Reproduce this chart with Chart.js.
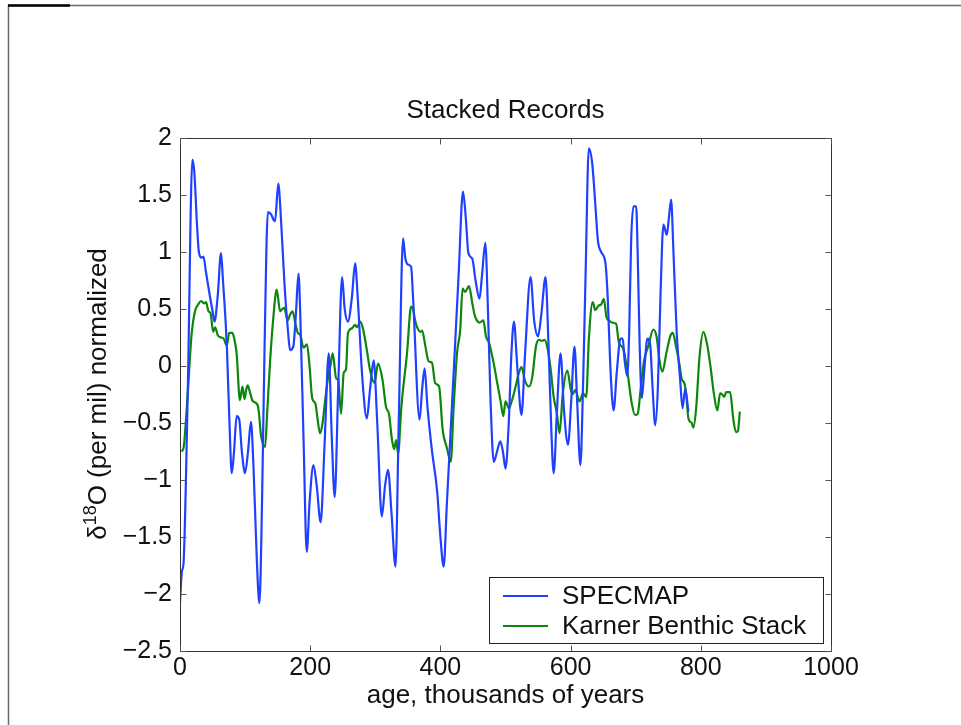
<!DOCTYPE html>
<html>
<head>
<meta charset="utf-8">
<title>Stacked Records</title>
<script src="https://cdn.jsdelivr.net/npm/chart.js@4/dist/chart.umd.min.js"></script>
<style>
  html, body { margin: 0; padding: 0; background: #ffffff; }
  #wrap { position: absolute; left: 0; top: 0; width: 961px; height: 725px; }
  canvas { display: block; }
</style>
</head>
<body>
<div id="wrap"><canvas id="c" width="961" height="725"></canvas></div>
<script>
// SPECMAP stacked record: age (ka) and normalized delta-18O
const specAge = [0, 3, 5.4, 12, 19, 22, 26, 29, 33, 36, 40, 46, 50, 53, 58, 63, 66, 72, 76, 79.5, 83, 87, 91, 95, 100, 104.5, 109, 113, 118, 122, 126, 130, 135, 140, 144, 146, 151, 155, 161, 166, 169, 174, 178, 182, 185, 190, 194.7, 199, 205, 210, 216, 222, 228.5, 233, 237.6, 243, 249, 253, 258, 264, 269, 273, 280, 287, 292, 297.5, 303, 310, 315, 319.5, 325, 331, 336, 342.6, 346, 350, 355, 358, 368, 372, 375.8, 380, 387, 395, 400, 405, 410, 420, 428, 434.7, 439, 443, 449, 454, 460, 464, 469, 473, 477, 482, 487, 492, 496, 500, 505, 509, 513, 518, 524.6, 530, 538.5, 544, 550, 555, 561.5, 566, 570, 574, 579, 584.5, 590, 596, 601, 606, 610, 615, 619, 623, 628, 633, 637, 642, 647, 653.6, 657, 661, 666, 671, 676.6, 680, 683, 687, 690, 693, 696.6, 700.7, 703, 706, 709.5, 713, 718, 722, 726, 730, 734, 738, 742.6, 747.8, 751, 754.4, 758, 763, 768, 772, 776, 781];
const specVal = [-2.07, -1.8, -1.73, -0.2, 1.81, 1.7, 1.25, 1.0, 0.95, 0.96, 0.82, 0.61, 0.48, 0.39, 0.62, 0.99, 0.75, 0.17, -0.5, -0.94, -0.75, -0.44, -0.47, -0.75, -0.94, -0.75, -0.49, -0.9, -1.7, -2.08, -1.2, 0.2, 1.35, 1.33, 1.28, 1.27, 1.6, 1.3, 0.67, 0.3, 0.14, 0.17, 0.45, 0.81, 0.4, -0.7, -1.63, -1.2, -0.87, -1.05, -1.37, -0.7, 0.11, -0.6, -1.15, -0.2, 0.78, 0.5, 0.39, 0.6, 0.9, 0.6, -0.1, -0.46, -0.2, 0.05, -0.5, -1.32, -1.05, -0.91, -1.3, -1.76, -0.5, 1.12, 0.95, 0.89, 0.87, 0.6, -0.47, -0.2, -0.02, -0.35, -0.74, -1.1, -1.5, -1.76, -1.2, -0.1, 0.8, 1.53, 1.3, 0.99, 0.94, 0.75, 0.59, 0.8, 1.08, 0.5, -0.3, -0.84, -0.75, -0.66, -0.75, -0.9, -0.5, 0.1, 0.39, 0.0, -0.43, 0.1, 0.78, 0.4, 0.26, 0.45, 0.78, 0.2, -0.5, -0.94, -0.4, 0.11, -0.4, -0.69, -0.3, 0.17, -0.3, -0.87, -0.2, 0.8, 1.91, 1.79, 1.5, 1.1, 1.0, 0.9, 0.6, 0.0, -0.39, -0.05, 0.24, 0.24, 0.05, -0.09, 0.3, 1.1, 1.4, 1.4, 1.0, 0.2, -0.28, -0.05, 0.24, 0.2, -0.2, -0.52, -0.2, 0.6, 1.24, 1.15, 1.3, 1.46, 1.0, 0.29, -0.1, -0.37, -0.2, -0.4];

// Karner benthic stack: age (ka) and normalized delta-18O
const karnerAge = [2, 5.4, 10.5, 18, 23, 28, 32.5, 37, 40, 43.7, 47, 51, 54, 58, 63, 67, 72, 75.5, 80.5, 84, 87, 92, 96, 99, 102, 104, 107, 111, 115, 119, 121, 124.5, 130.7, 134, 138.5, 143, 148.6, 153.7, 157, 160, 165.5, 169, 173, 177, 181, 185, 189.6, 195, 199, 203, 208, 211, 215, 219, 223, 228, 231, 234.5, 240, 243, 247.4, 251.5, 255, 258, 264, 269, 272, 277, 281, 287, 292, 299, 304, 311, 316.5, 321, 325.7, 329, 332, 335, 340, 348.7, 355, 358, 361.5, 365, 369, 372, 377, 382, 387, 392, 398, 403.5, 410, 416, 420, 425.5, 430.5, 434, 438, 444, 449, 452.5, 456, 460, 466, 470, 475, 482, 487, 492.5, 496.6, 500, 505, 510, 515.5, 520.6, 524.6, 530, 536, 541, 547, 551.5, 556, 560, 564, 569, 574, 579, 583, 588, 595, 600, 603, 607, 613.7, 619, 624, 628, 634, 638, 643, 647, 651, 655, 659, 664, 670, 674, 681, 687, 694, 699, 703, 708, 713, 719.6, 727, 732, 736.5, 741, 747, 753, 757, 762, 767, 771, 774, 777.5, 781, 786, 788.5, 793, 798, 804, 810, 815, 820, 825.5, 829.6, 833, 836, 839, 845, 850, 854, 857, 860];
const karnerVal = [-0.75, -0.72, -0.36, 0.29, 0.48, 0.54, 0.57, 0.55, 0.56, 0.48, 0.46, 0.3, 0.34, 0.27, 0.25, 0.24, 0.18, 0.29, 0.29, 0.22, 0.11, -0.3, -0.18, -0.29, -0.2, -0.17, -0.22, -0.3, -0.32, -0.34, -0.4, -0.61, -0.71, -0.4, 0.05, 0.4, 0.67, 0.48, 0.5, 0.51, 0.4, 0.45, 0.48, 0.38, 0.29, 0.27, 0.16, 0.19, 0.0, -0.28, -0.33, -0.45, -0.59, -0.5, -0.3, -0.08, 0.0, 0.11, -0.11, -0.12, -0.42, -0.06, -0.03, 0.29, 0.33, 0.36, 0.34, 0.39, 0.33, 0.14, -0.04, -0.15, 0.02, -0.12, -0.36, -0.42, -0.65, -0.73, -0.65, -0.77, -0.36, 0.11, 0.52, 0.5, 0.39, 0.33, 0.3, 0.31, 0.17, 0.04, 0.03, -0.15, -0.18, -0.56, -0.72, -0.84, -0.4, 0.11, 0.32, 0.68, 0.65, 0.7, 0.55, 0.45, 0.4, 0.38, 0.4, 0.26, 0.2, 0.02, -0.14, -0.31, -0.44, -0.31, -0.37, -0.3, -0.18, -0.06, -0.01, -0.13, -0.18, -0.1, 0.18, 0.23, 0.22, 0.23, 0.17, -0.01, -0.27, -0.42, -0.59, -0.24, -0.04, -0.2, -0.25, -0.21, -0.31, -0.24, -0.27, 0.23, 0.56, 0.49, 0.53, 0.54, 0.59, 0.43, 0.4, 0.38, 0.37, 0.21, 0.15, -0.04, -0.33, -0.43, -0.42, -0.18, 0.05, 0.18, 0.32, 0.26, 0.05, -0.05, 0.11, 0.26, 0.29, 0.17, 0.02, -0.12, -0.14, -0.24, -0.46, -0.5, -0.54, -0.36, 0.08, 0.3, 0.18, -0.01, -0.24, -0.39, -0.24, -0.25, -0.27, -0.23, -0.23, -0.47, -0.58, -0.57, -0.4];

const seriesNames = ['SPECMAP', 'Karner Benthic Stack'];
const xTickValues = [0, 200, 400, 600, 800, 1000];
const yTickValues = [-2.5, -2, -1.5, -1, -0.5, 0, 0.5, 1, 1.5, 2];

const chartTitle = 'Stacked Records';
const xTitle = 'age, thousands of years';

const FONT = "'Liberation Sans', Arial, Helvetica, sans-serif";
const FS_TICK = 25;
const FS = 26;
const AXIS_COLOR = '#333333';

function fmt(v) {
  const s = String(Math.round(v * 10) / 10);
  return v < 0 ? '\u2212' + s.slice(1) : s;
}

const toPoints = (xs, ys) => xs.map((x, i) => ({ x: x, y: ys[i] }));

// Axes box, inward ticks on all four sides, titles, legend and page frame
const decorations = {
  id: 'decorations',
  beforeDraw(chart) {
    const ctx = chart.ctx;
    ctx.save();
    ctx.fillStyle = '#ffffff';
    ctx.fillRect(0, 0, chart.width, chart.height);
    ctx.restore();
  },
  afterDraw(chart) {
    const ctx = chart.ctx;
    const a = chart.chartArea;
    const xs = chart.scales.x, ys = chart.scales.y;
    ctx.save();

    // page frame
    ctx.strokeStyle = '#6a6a6a';
    ctx.lineWidth = 1.5;
    ctx.beginPath();
    ctx.moveTo(8.5, chart.height);
    ctx.lineTo(8.5, 5.5);
    ctx.lineTo(chart.width, 5.5);
    ctx.stroke();
    ctx.strokeStyle = '#000000';
    ctx.lineWidth = 2.5;
    ctx.beginPath();
    ctx.moveTo(8, 5.5);
    ctx.lineTo(70, 5.5);
    ctx.stroke();

    // axes box
    ctx.strokeStyle = AXIS_COLOR;
    ctx.lineWidth = 1;
    const L = Math.round(a.left) + 0.5, R = Math.round(a.right) + 0.5;
    const T = Math.round(a.top) + 0.5, B = Math.round(a.bottom) + 0.5;
    ctx.strokeRect(L, T, R - L, B - T);

    // inward tick marks
    const tl = 6;
    ctx.strokeStyle = '#555555';
    ctx.beginPath();
    xTickValues.forEach(v => {
      const px = Math.round(xs.getPixelForValue(v)) + 0.5;
      ctx.moveTo(px, B); ctx.lineTo(px, B - tl);
      ctx.moveTo(px, T); ctx.lineTo(px, T + tl);
    });
    yTickValues.forEach(v => {
      const py = Math.round(ys.getPixelForValue(v)) + 0.5;
      ctx.moveTo(L, py); ctx.lineTo(L + tl, py);
      ctx.moveTo(R, py); ctx.lineTo(R - tl, py);
    });
    ctx.stroke();

    ctx.fillStyle = '#111111';
    ctx.textBaseline = 'alphabetic';

    // chart title
    ctx.font = FS + 'px ' + FONT;
    ctx.textAlign = 'center';
    ctx.fillText(chartTitle, (a.left + a.right) / 2, 118);

    // x axis title
    ctx.fillText(xTitle, (a.left + a.right) / 2, 703);

    // y axis title with superscript
    const parts = [
      { t: '\u03B4', size: FS, rise: 0 },
      { t: '18', size: Math.round(FS * 0.7), rise: FS * 0.38 },
      { t: 'O (per mil) normalized', size: FS, rise: 0 }
    ];
    let total = 0;
    parts.forEach(p => { ctx.font = p.size + 'px ' + FONT; p.w = ctx.measureText(p.t).width; total += p.w; });
    ctx.translate(106, 394);
    ctx.rotate(-Math.PI / 2);
    ctx.textAlign = 'left';
    let cx = -total / 2;
    parts.forEach(p => {
      ctx.font = p.size + 'px ' + FONT;
      ctx.fillText(p.t, cx, -p.rise);
      cx += p.w;
    });
    ctx.setTransform(1, 0, 0, 1, 0, 0);

    // legend
    const bx = 489.5, by = 577.5, bw = 334, bh = 66;
    ctx.fillStyle = '#ffffff';
    ctx.fillRect(bx, by, bw, bh);
    ctx.strokeStyle = '#222222';
    ctx.lineWidth = 1;
    ctx.strokeRect(bx, by, bw, bh);
    ctx.font = FS + 'px ' + FONT;
    ctx.textAlign = 'left';
    ctx.textBaseline = 'middle';
    chart.data.datasets.forEach((ds, i) => {
      const yy = 596 + i * 30;
      ctx.strokeStyle = ds.borderColor;
      ctx.lineWidth = 2;
      ctx.beginPath();
      ctx.moveTo(503, yy); ctx.lineTo(548, yy);
      ctx.stroke();
      ctx.fillStyle = '#111111';
      ctx.fillText(ds.label, 562, yy + 1);
    });

    ctx.restore();
  }
};

Chart.defaults.font.family = FONT;

new Chart(document.getElementById('c'), {
  type: 'line',
  data: {
    datasets: [
      {
        label: seriesNames[0],
        data: toPoints(specAge, specVal),
        borderColor: '#2040ff',
        borderWidth: 2.2,
        pointRadius: 0,
        cubicInterpolationMode: 'monotone',
        fill: false
      },
      {
        label: seriesNames[1],
        data: toPoints(karnerAge, karnerVal),
        borderColor: '#0c870c',
        borderWidth: 2.2,
        pointRadius: 0,
        cubicInterpolationMode: 'monotone',
        fill: false
      }
    ]
  },
  options: {
    responsive: false,
    animation: false,
    devicePixelRatio: 1,
    layout: { padding: { left: 0, right: 130, top: 138, bottom: 0 } },
    plugins: {
      legend: { display: false },
      title: { display: false },
      tooltip: { enabled: false }
    },
    scales: {
      x: {
        type: 'linear',
        min: 0, max: 1000,
        afterBuildTicks: s => { s.ticks = xTickValues.map(v => ({ value: v })); },
        afterFit: s => { s.height = 74; },
        grid: { display: false, drawTicks: false },
        border: { display: false },
        ticks: {
          padding: 2,
          color: '#111111',
          font: { size: FS_TICK },
          maxRotation: 0,
          callback: v => fmt(v)
        }
      },
      y: {
        type: 'linear',
        min: -2.5, max: 2,
        afterBuildTicks: s => { s.ticks = yTickValues.map(v => ({ value: v })); },
        afterFit: s => { s.width = 180; },
        grid: { display: false, drawTicks: false },
        border: { display: false },
        ticks: {
          padding: 8,
          color: '#111111',
          font: { size: FS_TICK },
          callback: v => fmt(v)
        }
      }
    }
  },
  plugins: [decorations]
});
</script>
</body>
</html>
